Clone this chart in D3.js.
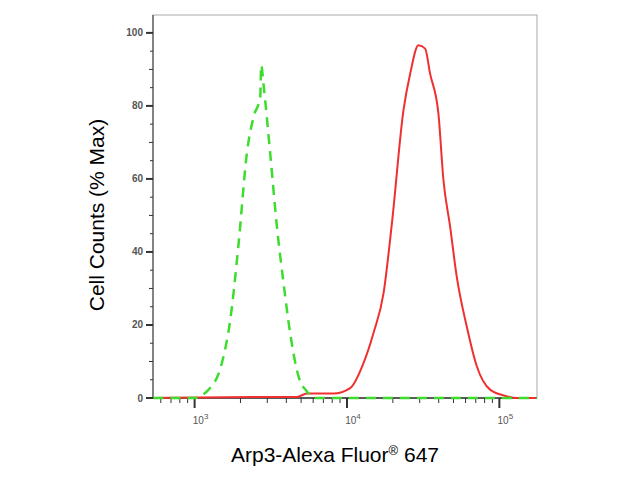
<!DOCTYPE html>
<html><head><meta charset="utf-8">
<script src="https://cdn.jsdelivr.net/npm/d3@7"></script>
<style>body{margin:0;background:#fff}</style>
</head><body>
<svg id="chart" width="640" height="486"></svg>
<script>
// log10 of fluorescence, % of max
var isoX = [2.73, 2.993, 3.092, 3.179, 3.234, 3.289, 3.343, 3.387, 3.431, 3.437, 3.452, 3.496, 3.54, 3.584, 3.627, 3.682, 3.737, 3.8, 5.245];
var isoY = [0, 0, 2.3, 9.6, 21.4, 42.4, 67, 77, 82.5, 91.2, 86, 67, 47, 31.4, 17.8, 5.9, 1.8, 0, 0];
var arpX = [2.73, 3.387, 3.671, 3.737, 3.91, 4.021, 4.109, 4.174, 4.24, 4.295, 4.371, 4.415, 4.469, 4.513, 4.545, 4.6, 4.633, 4.677, 4.72, 4.786, 4.852, 4.939, 5.048, 5.114, 5.245];
var arpY = [0, 0.3, 0.3, 1.2, 1.2, 2.7, 9.6, 17.8, 28.7, 47.9, 78.9, 88.9, 96.6, 95.7, 88.9, 77.9, 59.7, 46.9, 33.3, 19.6, 8.7, 2.3, 0.5, 0, 0];
var yTicks = [0, 20, 40, 60, 80, 100];
var xDecades = [3, 4, 5];

var pLeft = 153, pRight = 537, pTop = 15, pBottom = 398;
var svg = d3.select("#chart");

var x = d3.scaleLog().domain([Math.pow(10, 2.727), Math.pow(10, 5.247)]).range([pLeft, pRight]);
var y = d3.scaleLinear().domain([0, 104.9]).range([pBottom, pTop]);

function isMajor(d) {
  return xDecades.indexOf(Math.round(Math.log10(d) * 1000) / 1000) >= 0;
}

// frame
svg.append("rect").attr("x", pLeft).attr("y", pTop).attr("width", pRight - pLeft).attr("height", pBottom - pTop)
  .attr("fill", "none").attr("stroke", "#aaa").attr("stroke-width", 1);

// y axis
var yMinor = d3.range(0, 101, 5);
svg.append("g").selectAll("line").data(yMinor).enter().append("line")
  .attr("x1", pLeft).attr("x2", function(d){ return d % 20 == 0 ? pLeft - 7 : (d % 10 == 0 ? pLeft - 4 : pLeft - 3); })
  .attr("y1", function(d){ return y(d); }).attr("y2", function(d){ return y(d); })
  .attr("stroke", "#333").attr("stroke-width", function(d){ return d % 20 == 0 ? 2 : 1; });
svg.append("g").selectAll("text").data(yTicks).enter().append("text")
  .attr("x", pLeft - 10).attr("y", function(d){ return y(d) + 3.5; })
  .attr("text-anchor", "end").attr("font-family", "Arial, Liberation Sans, sans-serif")
  .attr("font-size", 10).attr("font-weight", "bold").attr("fill", "#555").text(function(d){ return d; });
svg.append("line").attr("x1", pLeft).attr("x2", pLeft).attr("y1", pTop).attr("y2", pBottom).attr("stroke", "#333");

// x axis
var minor = [];
for (var e = 2; e <= 5; e++) for (var m = 1; m < 10; m++) {
  var v = m * Math.pow(10, e);
  if (v >= x.domain()[0] && v <= x.domain()[1]) minor.push(v);
}
svg.append("g").selectAll("line").data(minor).enter().append("line")
  .attr("x1", function(d){ return x(d); }).attr("x2", function(d){ return x(d); })
  .attr("y1", pBottom).attr("y2", function(d){ return isMajor(d) ? pBottom + 10 : pBottom + 5; })
  .attr("stroke", "#333").attr("stroke-width", function(d){ return isMajor(d) ? 2 : 1; });
svg.append("line").attr("x1", pLeft - 6).attr("x2", pRight).attr("y1", pBottom).attr("y2", pBottom).attr("stroke", "#333").attr("stroke-width", 1.5);
var xl = svg.append("g").selectAll("text").data(xDecades).enter().append("text")
  .attr("x", function(d){ return x(Math.pow(10, d)) + 6; }).attr("y", pBottom + 26)
  .attr("text-anchor", "middle").attr("font-family", "Arial, Liberation Sans, sans-serif")
  .attr("font-size", 10).attr("fill", "#555");
xl.append("tspan").text("10");
xl.append("tspan").attr("dy", -5).attr("font-size", 8).text(function(d){ return d; });

// curves
var line = d3.line().x(function(d){ return x(Math.pow(10, d[0])); }).y(function(d){ return y(d[1]); }).curve(d3.curveMonotoneX);
svg.append("path").datum(arpX.map(function(d, i){ return [d, arpY[i]]; }))
  .attr("d", line).attr("fill", "none").attr("stroke", "#f03030").attr("stroke-width", 2);
svg.append("path").datum(isoX.map(function(d, i){ return [d, isoY[i]]; }))
  .attr("d", line).attr("fill", "none").attr("stroke", "#3ddc2e").attr("stroke-width", 2.5)
  .attr("stroke-dasharray", "10,7");

// titles
svg.append("text").attr("transform", "translate(104,215) rotate(-90)").attr("text-anchor", "middle")
  .attr("font-family", "Arial, Liberation Sans, sans-serif").attr("font-size", 21).text("Cell Counts (% Max)");
var t = svg.append("text").attr("x", 335).attr("y", 462).attr("text-anchor", "middle")
  .attr("font-family", "Arial, Liberation Sans, sans-serif").attr("font-size", 21);
t.append("tspan").text("Arp3-Alexa Fluor");
t.append("tspan").attr("font-size", 13).attr("dy", -7).text("®");
t.append("tspan").attr("dy", 7).text(" 647");
</script>
</body></html>
